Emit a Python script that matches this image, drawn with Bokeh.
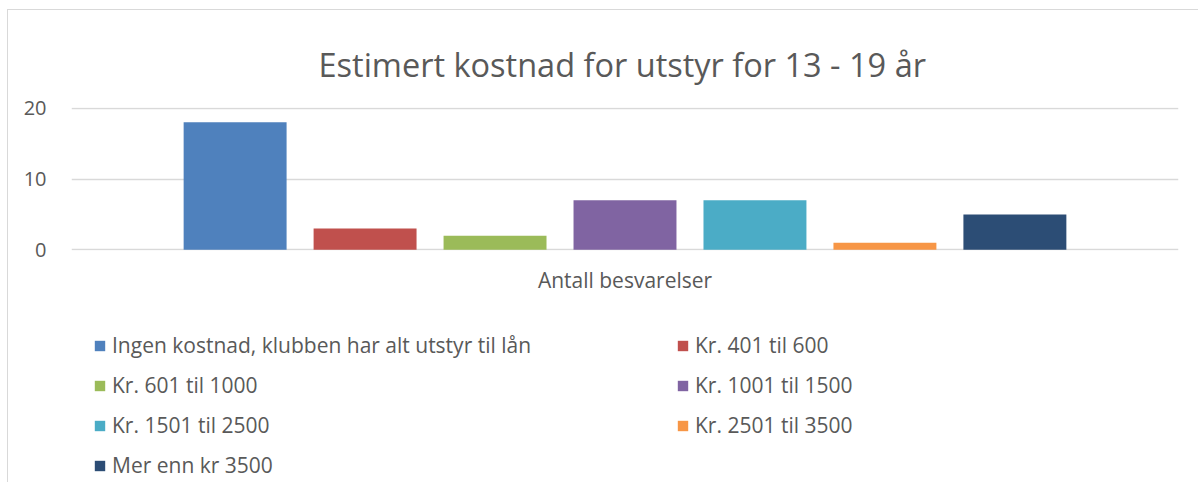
from bokeh.plotting import figure
from bokeh.layouts import column
from bokeh.models import (FactorRange, Range1d, FixedTicker, Legend, LegendItem,
                          ColumnDataSource)
from bokeh.transform import dodge
from bokeh.embed import file_html
from bokeh.resources import INLINE

# ---- data ----
category = ["Antall besvarelser"]
series = [
    "Ingen kostnad, klubben har alt utstyr til lån",
    "Kr. 401 til 600",
    "Kr. 601 til 1000",
    "Kr. 1001 til 1500",
    "Kr. 1501 til 2500",
    "Kr. 2501 til 3500",
    "Mer enn kr 3500",
]
counts = [18, 3, 2, 7, 7, 1, 5]
colors = ["#4F81BD", "#C0504D", "#9BBB59", "#8064A2", "#4BACC6", "#F79646", "#2C4D75"]
y_ticks = [0, 10, 20]
title_text = "Estimert kostnad for utstyr for 13 - 19 år"

FONT = "Open Sans"
TXT = "#595959"
W = 1190

# ---------------- main chart ----------------
p = figure(
    x_range=FactorRange(*category),
    y_range=Range1d(-0.1, 20.1),
    width=W, height=290,
    output_backend="svg", toolbar_location=None,
    min_border_left=63, min_border_right=20,
    min_border_top=97, min_border_bottom=50,
)
p.outline_line_color = None
p.background_fill_color = "white"
p.border_fill_color = "white"

p.title.text = title_text
p.title.align = "left"
p.title.offset = 247
p.title.vertical_align = "top"
p.title.standoff = 38
p.title.text_font = FONT
p.title.text_font_size = "32.5px"
p.title.text_font_style = "normal"
p.title.text_color = TXT

n = len(series)
step = 0.1174
bar_w = 0.093
sources = []
for i in range(n):
    src = ColumnDataSource(dict(cat=category, v=[counts[i]]))
    sources.append(src)
    p.vbar(x=dodge("cat", (i - (n - 1) / 2) * step, range=p.x_range), top="v",
           width=bar_w, source=src, fill_color=colors[i], line_color=None)

p.xgrid.grid_line_color = None
p.ygrid.ticker = FixedTicker(ticks=y_ticks)
p.ygrid.grid_line_color = "#d9d9d9"
p.ygrid.grid_line_width = 1.5

p.yaxis.ticker = FixedTicker(ticks=y_ticks)
p.yaxis.axis_line_color = None
p.yaxis.major_tick_line_color = None
p.yaxis.minor_tick_line_color = None
p.yaxis.major_label_standoff = 19
p.yaxis.major_label_text_font = FONT
p.yaxis.major_label_text_font_size = "20px"
p.yaxis.major_label_text_color = TXT

p.xaxis.axis_line_color = None
p.xaxis.major_tick_line_color = None
p.xaxis.minor_tick_line_color = None
p.xaxis.major_label_standoff = 9
p.xaxis.major_label_text_font = FONT
p.xaxis.major_label_text_font_size = "21px"
p.xaxis.major_label_text_color = TXT

# ---------------- legend panel ----------------
# The swatch renderers reuse the series sources; the panel's y range lies
# above every value, so only their legend swatches are seen.
LH = 182
q = figure(width=W, height=LH, x_range=FactorRange(*category),
           y_range=Range1d(1000, 1001),
           output_backend="svg", toolbar_location=None,
           x_axis_type=None, y_axis_type=None,
           min_border_left=0, min_border_right=0, min_border_top=0, min_border_bottom=0)
q.outline_line_color = None
q.grid.visible = False
q.background_fill_color = "white"
q.border_fill_color = "white"

swatches = [q.vbar(x="cat", top="v", width=bar_w, source=s, fill_color=c, line_color=None)
            for s, c in zip(sources, colors)]
items = [LegendItem(label=s, renderers=[r]) for s, r in zip(series, swatches)]

common = dict(glyph_width=13, glyph_height=13, label_standoff=6,
              label_height=20, spacing=12, padding=0, margin=0,
              label_text_font=FONT, label_text_font_size="21px",
              label_text_color=TXT, border_line_color=None,
              background_fill_alpha=0)
q.add_layout(Legend(items=items[0::2], location=(22, 3), **common), "center")
q.add_layout(Legend(items=items[1::2], location=(605, 43), **common), "center")

layout = column(p, q, styles={"margin-left": "7px", "margin-top": "9px",
                              "border-left": "1px solid #d9d9d9",
                              "border-top": "1px solid #d9d9d9"})

open("out.html", "w").write(file_html(layout, INLINE))
